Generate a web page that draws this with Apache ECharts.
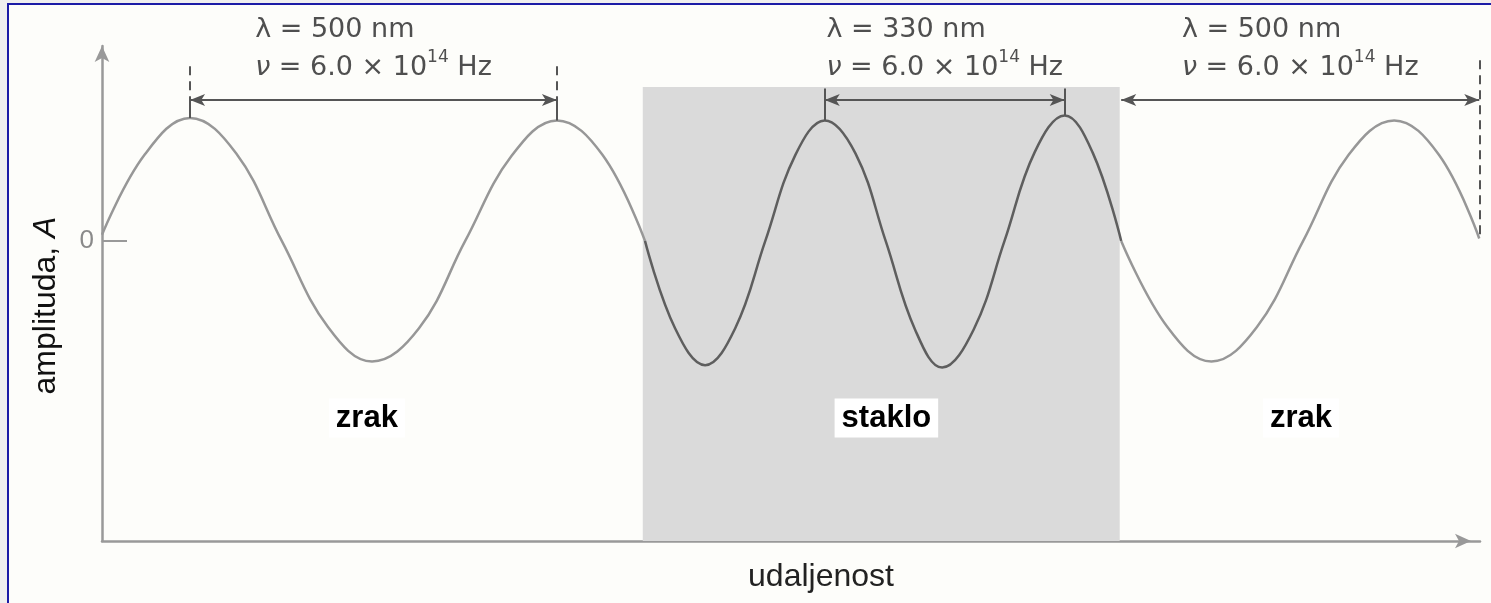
<!DOCTYPE html>
<html>
<head>
<meta charset="utf-8">
<script src="https://cdn.jsdelivr.net/npm/echarts@6/dist/echarts.min.js"></script>
<style>
html, body { margin: 0; padding: 0; overflow: hidden; background: #efefef; }
#frame {
  position: absolute; left: 7px; top: 3px; right: -10px; bottom: -10px;
  border-left: 2px solid #1b1ba6; border-top: 2px solid #1b1ba6;
  background: #fdfdfa;
}
#chart { position: absolute; left: 0; top: 0; width: 1491px; height: 603px; }
</style>
</head>
<body>
<div id="frame"></div>
<div id="chart"></div>
<script>
// distance in nm, amplitude in units of the peak height
const airLeftX = [0, 58, 120, 183, 245, 308, 368, 432, 495, 558, 620, 682, 740]
const airLeftA = [0.05, 0.7, 1.0, 0.71, 0.0, -0.7, -0.98, -0.71, 0.0, 0.69, 0.98, 0.7, 0.0]

const glassX = [740, 781, 822, 863, 904, 945, 985, 1027, 1068, 1108, 1145, 1188, 1230, 1271, 1312, 1350, 1389]
const glassA = [0.0, -0.71, -1.01, -0.71, 0.0, 0.7, 0.98, 0.71, 0.0, -0.72, -1.03, -0.72, 0.0, 0.72, 1.02, 0.72, 0.0]

const airRightX = [1389, 1452, 1512, 1574, 1637, 1699, 1761, 1822, 1877]
const airRightA = [0.0, -0.7, -0.98, -0.7, 0.0, 0.7, 0.98, 0.7, 0.02]

// glass slab
const glassFrom = 737
const glassTo = 1387
const glassTop = 1.252

// wavelength spans
const spanFrom = [120, 985, 1389]
const spanTo = [620, 1312, 1877]
const spanLambda = ['500', '330', '500']
const spanFreq = ['6.0', '6.0', '6.0']
const spanLevel = 1.146

// guide lines at the span ends
const dashedGuideX = [120, 620, 1877]
const dashedGuideTop = [1.42, 1.42, 1.47]
const solidGuideX = [120, 620, 985, 1312]
const solidGuideTop = [1.146, 1.146, 1.24, 1.24]

// medium labels
const regionNames = ['zrak', 'staklo', 'zrak']
const regionX = [361, 1069, 1634]
const regionLevel = -1.44

const yMin = -2.44
const yMax = 1.585
const xMax = 1878

const zip = (xs, ys) => xs.map((x, i) => [x, ys[i]])
const allX = airLeftX.concat(glassX, airRightX)
const allA = airLeftA.concat(glassA, airRightA)
const ampAt = (x) => {
  const i = allX.indexOf(x)
  return i >= 0 ? allA[i] : 0
}

const chart = echarts.init(document.getElementById('chart'))

const markLines = []
spanFrom.forEach((x0, i) => {
  markLines.push([{ coord: [x0, spanLevel] }, { coord: [spanTo[i], spanLevel] }])
})
dashedGuideX.forEach((x, i) => {
  const bottom = i < 2 ? spanLevel : ampAt(x)
  markLines.push([
    { coord: [x, dashedGuideTop[i]], symbol: 'none', lineStyle: { type: [9, 6], width: 2 } },
    { coord: [x, bottom], symbol: 'none' }
  ])
})
solidGuideX.forEach((x, i) => {
  markLines.push([
    { coord: [x, solidGuideTop[i]], symbol: 'none' },
    { coord: [x, ampAt(x)], symbol: 'none' }
  ])
})

const textTok = { fontFamily: 'DejaVu Sans', fontSize: 27, color: '#4f4f4f', lineHeight: 38, align: 'left' }
const spanLabels = spanFrom.map((x0, i) => ({
  value: [(x0 + spanTo[i]) / 2, spanLevel],
  label: {
    show: true,
    position: 'top',
    distance: 13,
    align: 'center',
    formatter: '{t|\u03bb = ' + spanLambda[i] + ' nm}\n{n|\u03bd}{t| = ' + spanFreq[i] + ' \u00d7 10}{s|14}{t| Hz}',
    rich: {
      t: textTok,
      n: Object.assign({}, textTok, { fontStyle: 'italic' }),
      s: { fontFamily: 'DejaVu Sans', fontSize: 17, color: '#4f4f4f', lineHeight: 22, verticalAlign: 'top', align: 'left' }
    }
  }
}))
const regionLabels = regionNames.map((name, i) => ({
  name: name,
  value: [regionX[i], regionLevel],
  label: {
    show: true,
    position: 'inside',
    formatter: '{b}',
    fontFamily: 'Liberation Sans',
    fontWeight: 'bold',
    fontSize: 31,
    color: '#000',
    opacity: 1,
    backgroundColor: '#ffffff',
    padding: [5, 7, 3, 7]
  }
}))

const waveStyle = (color) => ({
  type: 'line',
  smooth: 0.4,
  showSymbol: false,
  clip: false,
  silent: true,
  z: 2,
  lineStyle: { color: color, width: 2.5 }
})

const option = {
  animation: false,
  grid: { left: 102, right: 11, top: 46, bottom: 62 },
  xAxis: {
    type: 'value',
    min: 0,
    max: xMax,
    name: 'udaljenost',
    nameLocation: 'middle',
    nameGap: 20,
    nameTextStyle: { fontFamily: 'Liberation Sans', fontSize: 32, color: '#222', padding: [0, 0, 0, 60] },
    axisLine: {
      onZero: false,
      lineStyle: { color: '#999', width: 2.5 },
      symbol: ['none', 'arrow'],
      symbolSize: [11, 16],
      symbolOffset: [0, -9]
    },
    axisTick: { show: false },
    axisLabel: { show: false },
    splitLine: { show: false }
  },
  yAxis: {
    type: 'value',
    min: yMin,
    max: yMax,
    name: 'amplituda, {i|A}',
    nameLocation: 'middle',
    nameGap: 40,
    nameTextStyle: {
      fontFamily: 'Liberation Sans', fontSize: 32, color: '#111', padding: [0, 24, 0, 0],
      rich: { i: { fontFamily: 'Liberation Sans', fontSize: 32, color: '#111', fontStyle: 'italic' } }
    },
    axisLine: {
      show: true,
      onZero: false,
      lineStyle: { color: '#999', width: 2.5 },
      symbol: ['none', 'arrow'],
      symbolSize: [11, 16]
    },
    axisTick: { show: true, inside: true, length: 25, customValues: [0], lineStyle: { color: '#999', width: 2 } },
    axisLabel: { customValues: [0], color: '#8a8a8a', fontSize: 26, margin: 8, fontFamily: 'Liberation Sans' },
    splitLine: { show: false }
  },
  series: [
    {
      name: 'glass',
      type: 'line',
      data: [],
      z: 1,
      silent: true,
      markArea: {
        silent: true,
        itemStyle: { color: '#dadada' },
        data: [[{ coord: [glassFrom, glassTop] }, { coord: [glassTo, yMin] }]]
      }
    },
    Object.assign(waveStyle('#979797'), { name: 'zrak', data: zip(airLeftX, airLeftA) }),
    Object.assign(waveStyle('#5e5e5e'), { name: 'staklo', data: zip(glassX, glassA) }),
    Object.assign(waveStyle('#979797'), { name: 'zrak', data: zip(airRightX, airRightA) }),
    {
      name: 'labels',
      type: 'scatter',
      symbolSize: 0,
      clip: false,
      silent: true,
      z: 3,
      itemStyle: { opacity: 1 },
      data: spanLabels.concat(regionLabels),
      markLine: {
        silent: true,
        symbol: ['arrow', 'arrow'],
        symbolSize: [9, 15],
        label: { show: false },
        lineStyle: { color: '#555', width: 2, type: 'solid' },
        data: markLines
      }
    }
  ]
}

chart.setOption(option)
window.addEventListener('resize', () => chart.resize())
</script>
</body>
</html>
